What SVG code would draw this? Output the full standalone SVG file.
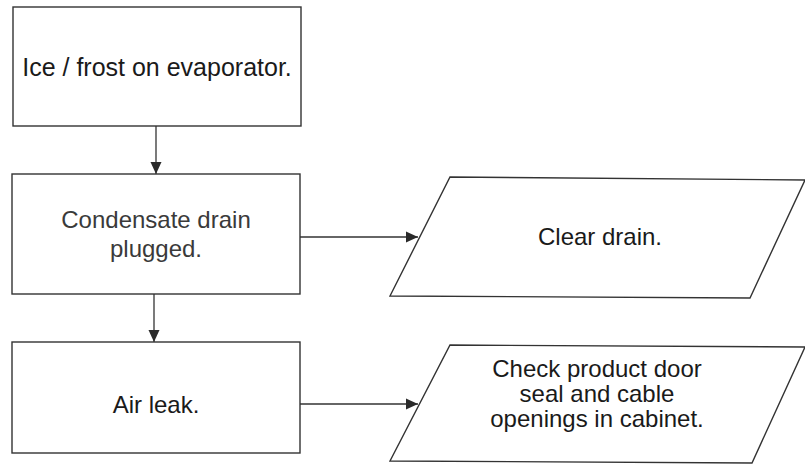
<svg xmlns="http://www.w3.org/2000/svg" width="805" height="467" viewBox="0 0 805 467">
<defs>
<style>
.box{fill:#fff;stroke:#333;stroke-width:1.4}
.t{font-family:"Liberation Sans",Arial,sans-serif;font-size:24px;fill:#1a1a1a;text-anchor:middle}
.big{font-size:25px}
.g{fill:#3a3a3a}
.c{stroke:#333;stroke-width:1.3;fill:none}
</style>
<marker id="ah" viewBox="0 0 12 12" refX="12" refY="6" markerWidth="12" markerHeight="12" markerUnits="userSpaceOnUse" orient="auto">
<path d="M0,0.5 L12,6 L0,11.5 z" fill="#2a2a2a"/>
</marker>
</defs>
<rect width="805" height="467" fill="#fff"/>
<g id="connectors">
<line class="c" x1="156" y1="126" x2="156" y2="174" marker-end="url(#ah)"/>
<line class="c" x1="300" y1="237" x2="418" y2="237" marker-end="url(#ah)"/>
<line class="c" x1="154" y1="294" x2="154" y2="342" marker-end="url(#ah)"/>
<line class="c" x1="300" y1="404" x2="418" y2="404" marker-end="url(#ah)"/>
</g>
<g id="n1">
<rect class="box" x="13" y="7" width="288" height="119"/>
<text class="t big" x="157" y="76">Ice / frost on evaporator.</text>
</g>
<g id="n2">
<rect class="box" x="12" y="174" width="288" height="120"/>
<text class="t g" x="156" y="228">Condensate drain</text>
<text class="t g" x="156" y="257">plugged.</text>
</g>
<g id="n3">
<polygon class="box" points="450,177 805,180 750,298 390,296"/>
<text class="t" x="600" y="245">Clear drain.</text>
</g>
<g id="n4">
<rect class="box" x="12" y="342" width="288" height="111"/>
<text class="t" x="156" y="413">Air leak.</text>
</g>
<g id="n5">
<polygon class="box" points="450,345 805,347 752,463 390,461"/>
<text class="t" x="597" y="377">Check product door</text>
<text class="t" x="597" y="402">seal and cable</text>
<text class="t" x="597" y="427">openings in cabinet.</text>
</g>
</svg>
